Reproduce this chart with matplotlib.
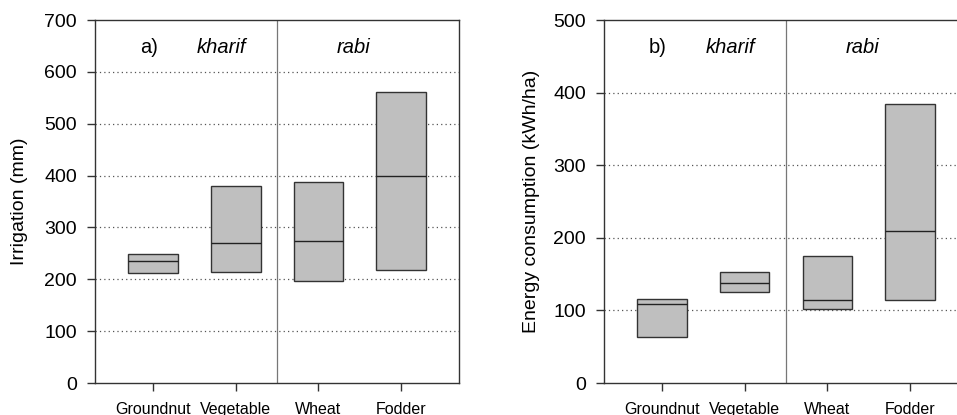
import numpy as np
import matplotlib
matplotlib.use("Agg")
import matplotlib.pyplot as plt

# --- DATA ---
crops = ["Groundnut", "Vegetable", "Wheat", "Fodder"]

irr_low = [212, 214, 196, 217]
irr_med = [236, 270, 273, 399]
irr_high = [248, 380, 388, 562]

en_low = [63, 125, 102, 114]
en_med = [109, 138, 114, 210]
en_high = [116, 153, 175, 384]

plt.rcParams["font.family"] = ["Liberation Sans", "DejaVu Sans"]

fig = plt.figure(figsize=(9.57, 4.15), dpi=100)
ax1 = fig.add_axes([0.0993, 0.0771, 0.3804, 0.8747])
ax2 = fig.add_axes([0.6311, 0.0771, 0.3804, 0.8747])

x = np.arange(1, len(crops) + 1)
box_w = 0.6


def draw_panel(ax, low, med, high, ymax, gridmax, tag, ylabel, label_x):
    low = np.array(low)
    med = np.array(med)
    high = np.array(high)
    ax.bar(x, high - low, bottom=low, width=box_w, color="#bfbfbf",
           edgecolor="#333333", linewidth=1.0, zorder=3)
    ax.hlines(med, x - box_w / 2, x + box_w / 2, color="#222222",
              linewidth=1.0, zorder=4)
    for yv in range(100, gridmax + 1, 100):
        ax.axhline(yv, color="#555555", linestyle=(0, (1, 2.5)),
                   linewidth=0.9, zorder=1)
    ax.axvline(2.5, color="#777777", linewidth=0.9, zorder=2)
    ax.set_xlim(0.3, 4.7)
    ax.set_ylim(0, ymax)
    ax.set_yticks(range(0, ymax + 1, 100))
    ax.set_xticks(x)
    ax.set_xticklabels(crops, fontsize=11.5)
    ax.tick_params(axis="y", labelsize=14, direction="out", length=6,
                   width=1, color="#333333", pad=7)
    ax.tick_params(axis="x", direction="out", length=6, width=1,
                   color="#333333", pad=8)
    for s in ax.spines.values():
        s.set_color("#333333")
        s.set_linewidth(1.0)
    ax.set_ylabel(ylabel, fontsize=14)
    ax.yaxis.set_label_coords(label_x, 0.5)
    yt = ymax * 0.923
    ax.text(0.95, yt, tag, fontsize=14.5, ha="center", va="center")
    ax.text(1.83, yt, "kharif", fontsize=14.5, style="italic",
            ha="center", va="center")
    ax.text(3.42, yt, "rabi", fontsize=14.5, style="italic",
            ha="center", va="center")


draw_panel(ax1, irr_low, irr_med, irr_high, 700, 600, "a)",
           "Irrigation (mm)", -0.184)
draw_panel(ax2, en_low, en_med, en_high, 500, 400, "b)",
           "Energy consumption (kWh/ha)", -0.176)

fig.savefig("out.png", dpi=100)
